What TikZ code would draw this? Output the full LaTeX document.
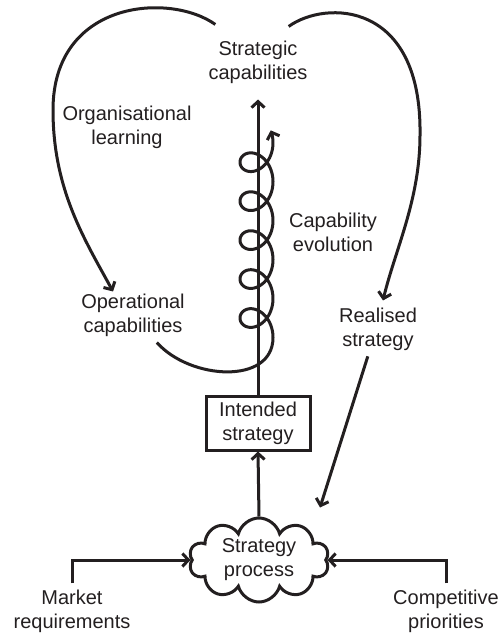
\documentclass[tikz,border=0pt]{standalone}
\usepackage{fontspec}
\setmainfont{Liberation Sans}
\usetikzlibrary{shapes.symbols, arrows.meta, positioning}
\definecolor{inkgrey}{RGB}{35, 31, 32}

\begin{document}
\begin{tikzpicture}[x=1pt, y=-1pt,
  txt/.style={font=\fontsize{20}{24}\selectfont, align=center, text=inkgrey, inner sep=2pt},
  flow/.style={draw=inkgrey, line width=3pt, -{Straight Barb[length=6pt, width=13pt]}}]
  \useasboundingbox (0, 0) rectangle (501, 634);

  % Capabilities
  \node[txt] (stratcap) at (258, 62) {Strategic\\capabilities};
  \node[txt] (orglearn) at (127, 127) {Organisational\\learning};
  \node[txt] (capevol) at (333, 232) {Capability\\evolution};
  \node[txt] (opcap) at (133, 315) {Operational\\capabilities};
  \node[txt] (realised) at (378, 329) {Realised\\strategy};

  % Strategy
  \node[txt, draw=inkgrey, line width=3pt, minimum width=104pt, minimum height=54pt, inner sep=0pt] (intended) at (258, 423) {Intended\\strategy};
  \node[txt, cloud, cloud puffs=10, cloud ignores aspect, draw=inkgrey, line width=3pt, minimum width=140pt, minimum height=84pt, inner sep=0pt] (process) at (259, 560) {Strategy\\process};

  % Inputs
  \node[txt] (market) at (72, 611) {Market\\requirements};
  \node[txt] (compet) at (446, 611) {Competitive\\priorities};

  % Main axis
  \draw[flow] (process.north) -- (intended.south);
  \draw[flow, shorten >=14pt] (intended.north) -- (stratcap.south);
  \draw[flow, shorten <=4pt] (market.north) |- (process.west);
  \draw[flow, shorten <=4pt] (compet.north) |- (process.east);
  \draw[flow, shorten <=4pt] ([xshift=-9pt]realised.south) -- ([xshift=61pt, yshift=9pt]process.north);

  % Loops
  \draw[flow] ([xshift=9pt, yshift=14pt]stratcap.north west) .. controls (170, -8) and (53, 0) .. (53, 110)
    .. controls (53, 190) and (85, 240) .. ([xshift=-20pt]opcap.north);
  \draw[flow] ([xshift=-21pt, yshift=12pt]stratcap.north east) .. controls (325, 0) and (422, 0) .. (420, 135)
    .. controls (420, 200) and (395, 250) .. ([xshift=5pt, yshift=5pt]realised.north);

  % Evolution coil
  \draw[flow] ([xshift=-30pt, yshift=-4pt]opcap.south east) .. controls (190, 380) and (273, 385) .. (273, 337.5)
    -- plot[domain=0:31.95, samples=400, variable=\t] ({256.5+16.5*cos(\t r)}, {337.5-6.2*\t-18*sin(\t r)});
\end{tikzpicture}
\end{document}
